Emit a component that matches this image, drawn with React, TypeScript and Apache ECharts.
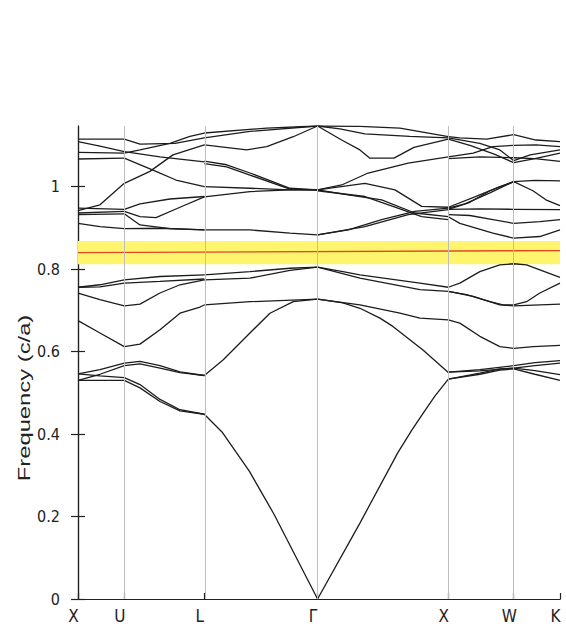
import React, { useEffect, useRef } from 'react';
import * as echarts from 'echarts';

// High-symmetry points along the path (distance in 2π/a units) and their labels
const kPoints = [0, 0.354, 0.966, 1.832, 2.832, 3.332, 3.686];
const kLabels = ['X', 'U', 'L', 'Γ', 'X', 'W', 'K'];
const yTicks = [0, 0.2, 0.4, 0.6, 0.8, 1];
const yMax = 1.147;
const gapBand = [0.812, 0.868];
const gapLine = [[0, 0.84], [3.686, 0.845]];

// Bands, segment X-U
const bandsXU = [
  [[0, 0.546], [0.168, 0.556], [0.354, 0.572]],
  [[0, 0.53], [0.168, 0.545], [0.354, 0.566]],
  [[0, 0.546], [0.168, 0.541], [0.354, 0.537]],
  [[0, 0.53], [0.168, 0.53], [0.354, 0.53]],
  [[0, 0.675], [0.168, 0.645], [0.354, 0.612]],
  [[0, 0.742], [0.168, 0.726], [0.354, 0.711]],
  [[0, 0.756], [0.168, 0.757], [0.354, 0.766]],
  [[0, 0.756], [0.168, 0.762], [0.354, 0.774]],
  [[0, 0.911], [0.168, 0.903], [0.354, 0.898]],
  [[0, 0.932], [0.354, 0.934]],
  [[0, 0.936], [0.354, 0.94]],
  [[0, 0.948], [0.354, 0.945]],
  [[0, 0.942], [0.168, 0.956], [0.354, 1.008]],
  [[0, 1.067], [0.354, 1.069]],
  [[0, 1.083], [0.354, 1.081]],
  [[0, 1.109], [0.168, 1.098], [0.354, 1.085]],
  [[0, 1.115], [0.354, 1.115]],
];

// Segment U-L
const bandsUL = [
  [[0.354, 0.572], [0.474, 0.576], [0.627, 0.566], [0.78, 0.551], [0.966, 0.542]],
  [[0.354, 0.566], [0.474, 0.57], [0.627, 0.56], [0.78, 0.549], [0.966, 0.542]],
  [[0.354, 0.537], [0.474, 0.52], [0.627, 0.484], [0.78, 0.459], [0.966, 0.448]],
  [[0.354, 0.53], [0.474, 0.512], [0.627, 0.479], [0.78, 0.456], [0.966, 0.448]],
  [[0.354, 0.612], [0.474, 0.618], [0.627, 0.653], [0.78, 0.693], [0.933, 0.708], [0.966, 0.713]],
  [[0.354, 0.711], [0.474, 0.715], [0.627, 0.742], [0.78, 0.762], [0.966, 0.774]],
  [[0.354, 0.766], [0.627, 0.77], [0.966, 0.776]],
  [[0.354, 0.774], [0.627, 0.782], [0.966, 0.786]],
  [[0.354, 0.898], [0.627, 0.899], [0.966, 0.895]],
  [[0.354, 0.934], [0.474, 0.907], [0.703, 0.898], [0.966, 0.895]],
  [[0.354, 0.94], [0.474, 0.927], [0.596, 0.925], [0.78, 0.95], [0.966, 0.975]],
  [[0.354, 0.945], [0.474, 0.958], [0.703, 0.97], [0.966, 0.976]],
  [[0.354, 1.008], [0.55, 1.037], [0.726, 1.077], [0.966, 1.101]],
  [[0.354, 1.069], [0.596, 1.037], [0.749, 1.016], [0.966, 1.0]],
  [[0.354, 1.081], [0.474, 1.089], [0.703, 1.105], [0.856, 1.122], [0.966, 1.13]],
  [[0.354, 1.085], [0.627, 1.072], [0.966, 1.06]],
  [[0.354, 1.115], [0.474, 1.103], [0.742, 1.105], [0.966, 1.118]],
];

// Segment L-Γ
const bandsLG = [
  [[0.966, 0.448], [1.101, 0.405], [1.31, 0.31], [1.5, 0.205], [1.832, 0]],
  [[0.966, 0.542], [1.111, 0.58], [1.315, 0.645], [1.468, 0.693], [1.646, 0.721], [1.832, 0.727]],
  [[0.966, 0.713], [1.315, 0.721], [1.832, 0.727]],
  [[0.966, 0.774], [1.315, 0.778], [1.621, 0.797], [1.832, 0.805]],
  [[0.966, 0.786], [1.315, 0.794], [1.621, 0.802], [1.832, 0.805]],
  [[0.966, 0.895], [1.315, 0.895], [1.621, 0.887], [1.832, 0.883]],
  [[0.966, 0.975], [1.315, 0.988], [1.621, 0.992], [1.832, 0.992]],
  [[0.966, 1.0], [1.315, 0.996], [1.621, 0.992], [1.832, 0.992]],
  [[0.966, 1.056], [1.137, 1.048], [1.315, 1.028], [1.621, 0.994], [1.832, 0.992]],
  [[0.966, 1.062], [1.137, 1.053], [1.315, 1.033], [1.621, 0.996], [1.832, 0.992]],
  [[0.966, 1.101], [1.29, 1.089], [1.443, 1.097], [1.646, 1.121], [1.832, 1.147]],
  [[0.966, 1.118], [1.315, 1.134], [1.832, 1.147]],
  [[0.966, 1.13], [1.443, 1.142], [1.832, 1.147]],
];

// Segment Γ-X
const bandsGX = [
  [[1.832, 0], [2.156, 0.184], [2.446, 0.355], [2.554, 0.41], [2.64, 0.451], [2.729, 0.492], [2.832, 0.533]],
  [[1.832, 0.727], [2.026, 0.718], [2.156, 0.705], [2.309, 0.681], [2.408, 0.661], [2.638, 0.604], [2.832, 0.549]],
  [[1.832, 0.727], [2.156, 0.713], [2.462, 0.693], [2.615, 0.681], [2.832, 0.677]],
  [[1.832, 0.805], [2.156, 0.778], [2.615, 0.75], [2.832, 0.746]],
  [[1.832, 0.805], [2.026, 0.794], [2.156, 0.786], [2.615, 0.766], [2.832, 0.756]],
  [[1.832, 0.883], [2.194, 0.903], [2.525, 0.932], [2.832, 0.944]],
  [[1.832, 0.883], [2.067, 0.895], [2.322, 0.92], [2.576, 0.94], [2.832, 0.948]],
  [[1.832, 0.99], [2.194, 0.976], [2.446, 0.948], [2.628, 0.927], [2.832, 0.92]],
  [[1.832, 0.992], [2.067, 0.98], [2.322, 0.968], [2.576, 0.936], [2.832, 0.927]],
  [[1.832, 0.992], [2.194, 1.008], [2.424, 0.992], [2.628, 0.952], [2.832, 0.95]],
  [[1.832, 0.992], [2.016, 1.004], [2.219, 1.033], [2.525, 1.057], [2.832, 1.072]],
  [[1.832, 1.147], [2.016, 1.113], [2.156, 1.089], [2.232, 1.069], [2.416, 1.069], [2.569, 1.095], [2.832, 1.115]],
  [[1.832, 1.147], [2.003, 1.14], [2.194, 1.128], [2.538, 1.122], [2.832, 1.118]],
  [[1.832, 1.147], [2.156, 1.146], [2.462, 1.142], [2.832, 1.121]],
];

// Segment X-W-K
const bandsXWK = [
  [[2.832, 0.55], [3.073, 0.556], [3.332, 0.566], [3.494, 0.573], [3.686, 0.578]],
  [[2.832, 0.55], [3.073, 0.553], [3.332, 0.56], [3.494, 0.566], [3.686, 0.572]],
  [[2.832, 0.533], [3.073, 0.548], [3.226, 0.558], [3.332, 0.56], [3.494, 0.554], [3.686, 0.544]],
  [[2.832, 0.533], [3.073, 0.545], [3.226, 0.555], [3.332, 0.558], [3.494, 0.545], [3.686, 0.53]],
  [[2.832, 0.677], [2.92, 0.669], [3.073, 0.637], [3.226, 0.612], [3.332, 0.608], [3.482, 0.612], [3.686, 0.615]],
  [[2.832, 0.746], [3.022, 0.734], [3.226, 0.713], [3.332, 0.711], [3.686, 0.715]],
  [[2.832, 0.746], [2.972, 0.738], [3.15, 0.721], [3.251, 0.713], [3.332, 0.713], [3.43, 0.721], [3.532, 0.742], [3.686, 0.766]],
  [[2.832, 0.756], [2.92, 0.766], [3.073, 0.794], [3.226, 0.81], [3.332, 0.813], [3.43, 0.81], [3.532, 0.798], [3.686, 0.78]],
  [[2.832, 0.927], [2.92, 0.911], [3.173, 0.887], [3.332, 0.875], [3.532, 0.879], [3.686, 0.895]],
  [[2.832, 0.932], [2.997, 0.93], [3.173, 0.92], [3.332, 0.911], [3.532, 0.915], [3.686, 0.92]],
  [[2.832, 0.945], [3.073, 0.946], [3.332, 0.945], [3.686, 0.944]],
  [[2.832, 0.948], [2.959, 0.958], [3.15, 0.985], [3.332, 1.012], [3.479, 0.99], [3.578, 0.968], [3.686, 0.954]],
  [[2.832, 0.945], [2.997, 0.962], [3.15, 0.99], [3.332, 1.012], [3.494, 1.015], [3.686, 1.014]],
  [[2.832, 0.95], [3.035, 0.975], [3.226, 1.0], [3.332, 1.012]],
  [[2.832, 1.068], [3.073, 1.072], [3.332, 1.07], [3.494, 1.068], [3.686, 1.061]],
  [[2.832, 1.072], [3.022, 1.081], [3.173, 1.097], [3.332, 1.1], [3.502, 1.101], [3.686, 1.097]],
  [[2.832, 1.115], [2.997, 1.1], [3.188, 1.078], [3.332, 1.058], [3.494, 1.068], [3.686, 1.081]],
  [[2.832, 1.118], [3.073, 1.105], [3.226, 1.089], [3.332, 1.063], [3.458, 1.077], [3.686, 1.089]],
  [[2.832, 1.121], [2.92, 1.118], [3.125, 1.115], [3.332, 1.126], [3.502, 1.113], [3.686, 1.109]],
];

const FONT = "'Liberation Sans Narrow', 'DejaVu Sans Condensed', 'Liberation Sans', Arial, sans-serif";
const INK = '#222222';

export default function App() {
  const ref = useRef<HTMLDivElement>(null);
  useEffect(() => {
    const chart = echarts.init(ref.current as HTMLDivElement, null, { renderer: 'svg' });
    const allBands = [...bandsXU, ...bandsUL, ...bandsLG, ...bandsGX, ...bandsXWK];
    const series: any[] = [
      {
        type: 'line',
        data: [],
        silent: true,
        z: 1,
        markArea: {
          silent: true,
          itemStyle: { color: '#fff46e' },
          data: [[{ yAxis: gapBand[0] }, { yAxis: gapBand[1] }]],
        },
      },
      {
        type: 'line',
        data: [],
        silent: true,
        z: 2,
        markLine: {
          silent: true,
          symbol: ['none', 'none'],
          label: { show: false },
          lineStyle: { color: '#bdbdbd', width: 1, type: 'solid' },
          data: kPoints.slice(1, -1).map((k) => ({ xAxis: k })),
        },
      },
      {
        type: 'line',
        data: gapLine,
        symbol: 'none',
        silent: true,
        z: 3,
        lineStyle: { color: '#e2461e', width: 1.3 },
      },
      ...allBands.map((b) => ({
        type: 'line',
        data: b,
        symbol: 'none',
        showSymbol: false,
        silent: true,
        z: 4,
        lineStyle: { color: '#1c1c1c', width: 1.3 },
      })),
    ];
    chart.setOption({
      animation: false,
      grid: { left: 78, right: 6, top: 126, bottom: 30 },
      xAxis: [
        {
          type: 'value',
          min: 0,
          max: 3.686,
          position: 'bottom',
          axisLine: { show: true, lineStyle: { color: INK, width: 1.2 } },
          axisTick: { show: true, inside: true, length: 6, customValues: kPoints, lineStyle: { color: INK, width: 1.2 } },
          axisLabel: {
            customValues: kPoints,
            formatter: (v: number) => {
              const i = kPoints.findIndex((p) => Math.abs(p - v) < 1e-6);
              return i >= 0 ? kLabels[i] : '';
            },
            margin: 8,
            fontSize: 17,
            color: INK,
            fontFamily: FONT,
            padding: [0, 9, 0, 0],
          },
          splitLine: { show: false },
        },
        {
          type: 'value',
          min: 0,
          max: 3.686,
          position: 'top',
          axisLine: { show: true, lineStyle: { color: INK, width: 1.2 } },
          axisTick: { show: false },
          axisLabel: { show: false },
          splitLine: { show: false },
        },
      ],
      yAxis: [
        {
          type: 'value',
          min: 0,
          max: yMax,
          position: 'left',
          axisLine: { show: true, lineStyle: { color: INK, width: 1.2 } },
          axisTick: { show: true, inside: true, length: 7, customValues: yTicks, lineStyle: { color: INK, width: 1.2 } },
          axisLabel: { customValues: yTicks, margin: 18, fontSize: 16, color: INK, fontFamily: FONT },
          splitLine: { show: false },
        },
        {
          type: 'value',
          min: 0,
          max: yMax,
          position: 'right',
          axisLine: { show: true, lineStyle: { color: INK, width: 1.2 } },
          axisTick: { show: true, inside: true, length: 7, customValues: yTicks, lineStyle: { color: INK, width: 1.2 } },
          axisLabel: { show: false },
          splitLine: { show: false },
        },
      ],
      graphic: [
        {
          type: 'text',
          x: 24,
          y: 398,
          rotation: Math.PI / 2,
          scaleX: 1.4,
          style: {
            text: 'Frequency (c/a)',
            fontSize: 17,
            fontFamily: "'Liberation Sans', Arial, sans-serif",
            fill: INK,
            align: 'center',
            verticalAlign: 'middle',
          },
        },
      ],
      series,
    });
    return () => chart.dispose();
  }, []);
  return <div ref={ref} style={{ position: 'absolute', left: 0, top: 0, width: 566, height: 629 }} />;
}
